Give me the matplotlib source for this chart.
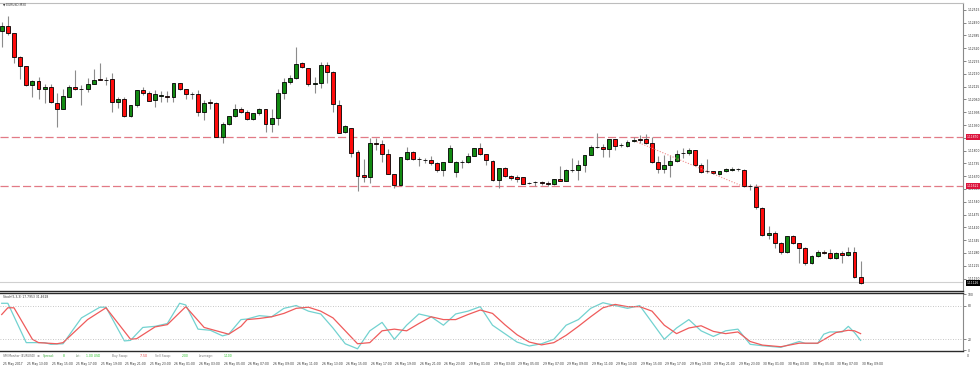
import matplotlib
matplotlib.use("Agg")
import matplotlib.pyplot as plt
import matplotlib.transforms as mtransforms
import numpy as np

# EURUSD M30 candles (25-30 May 2017)
opens = [
    1.12409, 1.12433, 1.12396, 1.12277, 1.12230, 1.12135, 1.12154, 1.12111, 1.12125, 1.12043,
    1.12011, 1.12074, 1.12125, 1.12114, 1.12111, 1.12138, 1.12162, 1.12160, 1.12162, 1.12047,
    1.12064, 1.11976, 1.12030, 1.12106, 1.12091, 1.12057, 1.12079, 1.12077, 1.12072, 1.12143,
    1.12111, 1.12087, 1.12087, 1.11998, 1.12045, 1.12043, 1.11871, 1.11935, 1.11976, 1.12013,
    1.11998, 1.11962, 1.11989, 1.12011, 1.11935, 1.11964, 1.12094, 1.12147, 1.12169, 1.12243,
    1.12220, 1.12137, 1.12145, 1.12235, 1.12199, 1.12032, 1.11894, 1.11913, 1.11791, 1.11674,
    1.11667, 1.11840, 1.11835, 1.11783, 1.11681, 1.11625, 1.11757, 1.11794, 1.11756, 1.11752,
    1.11752, 1.11735, 1.11700, 1.11742, 1.11693, 1.11741, 1.11741, 1.11774, 1.11812, 1.11783,
    1.11749, 1.11651, 1.11710, 1.11671, 1.11667, 1.11664, 1.11634, 1.11639, 1.11640, 1.11637,
    1.11629, 1.11656, 1.11646, 1.11701, 1.11701, 1.11727, 1.11778, 1.11820, 1.11820, 1.11807,
    1.11857, 1.11828, 1.11825, 1.11850, 1.11857, 1.11857, 1.11837, 1.11744, 1.11705, 1.11727,
    1.11749, 1.11786, 1.11786, 1.11803, 1.11727, 1.11696, 1.11696, 1.11680, 1.11696, 1.11703,
    1.11705, 1.11701, 1.11620, 1.11617, 1.11508, 1.11370, 1.11380, 1.11329, 1.11286, 1.11366,
    1.11329, 1.11307, 1.11230, 1.11265, 1.11286, 1.11278, 1.11253, 1.11278, 1.11270, 1.11286,
    1.11159,
]
highs = [
    1.12453, 1.12484, 1.12398, 1.12281, 1.12232, 1.12157, 1.12175, 1.12138, 1.12138, 1.12091,
    1.12114, 1.12133, 1.12209, 1.12133, 1.12167, 1.12216, 1.12243, 1.12175, 1.12196, 1.12071,
    1.12071, 1.12033, 1.12108, 1.12122, 1.12104, 1.12108, 1.12103, 1.12103, 1.12145, 1.12145,
    1.12113, 1.12098, 1.12108, 1.12057, 1.12061, 1.12045, 1.11947, 1.11978, 1.12037, 1.12023,
    1.12006, 1.11991, 1.12016, 1.12013, 1.12013, 1.12114, 1.12167, 1.12184, 1.12328, 1.12252,
    1.12222, 1.12175, 1.12249, 1.12249, 1.12204, 1.12057, 1.11930, 1.11915, 1.11803, 1.11756,
    1.11862, 1.11862, 1.11854, 1.11807, 1.11683, 1.11768, 1.11817, 1.11796, 1.11769, 1.11764,
    1.11773, 1.11744, 1.11744, 1.11828, 1.11745, 1.11752, 1.11786, 1.11814, 1.11837, 1.11785,
    1.11752, 1.11712, 1.11718, 1.11676, 1.11676, 1.11666, 1.11640, 1.11646, 1.11647, 1.11647,
    1.11658, 1.11722, 1.11707, 1.11761, 1.11752, 1.11780, 1.11828, 1.11888, 1.11833, 1.11859,
    1.11859, 1.11837, 1.11854, 1.11868, 1.11879, 1.11883, 1.11871, 1.11773, 1.11778, 1.11778,
    1.11803, 1.11812, 1.11813, 1.11805, 1.11737, 1.11756, 1.11698, 1.11698, 1.11712, 1.11717,
    1.11714, 1.11707, 1.11630, 1.11630, 1.11513, 1.11417, 1.11392, 1.11336, 1.11368, 1.11371,
    1.11331, 1.11310, 1.11270, 1.11295, 1.11295, 1.11300, 1.11285, 1.11291, 1.11312, 1.11309,
    1.11238,
]
lows = [
    1.12326, 1.12387, 1.12243, 1.12162, 1.12128, 1.12074, 1.12061, 1.12043, 1.12040, 1.11921,
    1.12010, 1.12071, 1.12108, 1.12032, 1.12098, 1.12136, 1.12159, 1.12135, 1.11995, 1.12015,
    1.11972, 1.11972, 1.12020, 1.12082, 1.12051, 1.12020, 1.12048, 1.12048, 1.12048, 1.12108,
    1.12061, 1.12064, 1.11976, 1.11955, 1.12013, 1.11868, 1.11840, 1.11932, 1.11972, 1.11989,
    1.11955, 1.11955, 1.11982, 1.11896, 1.11896, 1.11930, 1.12061, 1.12138, 1.12166, 1.12218,
    1.12128, 1.12094, 1.12119, 1.12142, 1.11998, 1.11889, 1.11888, 1.11769, 1.11596, 1.11642,
    1.11637, 1.11803, 1.11744, 1.11679, 1.11608, 1.11623, 1.11752, 1.11752, 1.11723, 1.11735,
    1.11727, 1.11693, 1.11671, 1.11740, 1.11667, 1.11710, 1.11735, 1.11773, 1.11778, 1.11727,
    1.11648, 1.11608, 1.11667, 1.11651, 1.11642, 1.11629, 1.11629, 1.11622, 1.11625, 1.11620,
    1.11625, 1.11644, 1.11644, 1.11693, 1.11651, 1.11693, 1.11776, 1.11812, 1.11766, 1.11766,
    1.11803, 1.11820, 1.11820, 1.11845, 1.11840, 1.11833, 1.11735, 1.11688, 1.11688, 1.11664,
    1.11742, 1.11761, 1.11778, 1.11722, 1.11686, 1.11685, 1.11681, 1.11676, 1.11691, 1.11696,
    1.11696, 1.11615, 1.11600, 1.11503, 1.11366, 1.11349, 1.11305, 1.11273, 1.11280, 1.11325,
    1.11230, 1.11219, 1.11224, 1.11259, 1.11275, 1.11249, 1.11249, 1.11227, 1.11265, 1.11153,
    1.11122,
]
closes = [
    1.12433, 1.12399, 1.12274, 1.12230, 1.12135, 1.12155, 1.12111, 1.12125, 1.12045, 1.12010,
    1.12077, 1.12125, 1.12111, 1.12112, 1.12138, 1.12159, 1.12160, 1.12161, 1.12047, 1.12064,
    1.11976, 1.12030, 1.12106, 1.12091, 1.12053, 1.12087, 1.12080, 1.12072, 1.12143, 1.12111,
    1.12089, 1.12088, 1.11998, 1.12043, 1.12044, 1.11871, 1.11935, 1.11976, 1.12013, 1.11998,
    1.11962, 1.11989, 1.12011, 1.11935, 1.11964, 1.12094, 1.12147, 1.12169, 1.12240, 1.12223,
    1.12137, 1.12145, 1.12235, 1.12199, 1.12037, 1.11891, 1.11925, 1.11789, 1.11671, 1.11667,
    1.11840, 1.11835, 1.11781, 1.11681, 1.11625, 1.11766, 1.11794, 1.11756, 1.11755, 1.11753,
    1.11735, 1.11700, 1.11742, 1.11815, 1.11742, 1.11740, 1.11774, 1.11812, 1.11783, 1.11752,
    1.11651, 1.11710, 1.11671, 1.11659, 1.11657, 1.11630, 1.11633, 1.11638, 1.11634, 1.11629,
    1.11656, 1.11646, 1.11701, 1.11700, 1.11727, 1.11778, 1.11817, 1.11819, 1.11807, 1.11857,
    1.11825, 1.11827, 1.11845, 1.11854, 1.11856, 1.11837, 1.11744, 1.11705, 1.11727, 1.11749,
    1.11783, 1.11787, 1.11803, 1.11727, 1.11693, 1.11695, 1.11685, 1.11696, 1.11705, 1.11708,
    1.11706, 1.11620, 1.11619, 1.11512, 1.11370, 1.11380, 1.11332, 1.11283, 1.11366, 1.11332,
    1.11307, 1.11230, 1.11265, 1.11286, 1.11278, 1.11253, 1.11278, 1.11270, 1.11286, 1.11156,
    1.11126,
]

# Stochastic(5,3,3) main (%K) and signal (%D), read at bar positions
stoch_k_bars = [0, 1, 4, 7, 8, 10, 13, 16, 17, 20, 21, 23, 25, 27, 29, 30, 32, 34, 36, 37,
                39, 40, 42, 44, 46, 48, 50, 52, 54, 56, 58, 60, 62, 64, 66, 68, 70, 72, 74, 76,
                78, 80, 82, 84, 86, 88, 90, 92, 94, 96, 98, 100, 102, 104, 106, 108, 110, 112,
                114, 116, 118, 120, 122, 124, 127, 130, 131, 133, 134, 135, 137, 138, 139, 140]
stoch_k = [84, 84, 14, 14, 11, 12, 58, 77, 77, 17, 18, 41, 43, 48, 84, 81, 38, 36, 26, 29,
           55, 56, 62, 60, 75, 80, 70, 65, 40, 12, 3, 35, 50, 20, 45, 65, 60, 45, 65, 70,
           78, 45, 30, 15, 8, 12, 20, 45, 55, 75, 85, 80, 75, 80, 50, 20, 40, 55,
           35, 25, 35, 38, 11, 8.5, 5.6, 16, 12.6, 12.6, 29, 33, 33, 43, 32, 18]
stoch_d_bars = [0, 1, 2, 5, 6, 9, 10, 14, 17, 21, 22, 25, 27, 30, 33, 37, 39, 40, 42, 44,
                46, 48, 50, 52, 54, 56, 58, 60, 62, 64, 66, 68, 70, 72, 74, 76, 78, 80, 82, 84,
                86, 88, 90, 92, 94, 96, 98, 100, 102, 104, 106, 108, 110, 112, 114, 116, 118,
                120, 122, 124, 127, 130, 133, 136, 138, 139, 140]
stoch_d = [64, 76, 76, 20, 14, 12, 14, 55, 76, 20, 21, 42, 46, 78, 41, 29, 43, 55, 57, 60,
           66, 75, 77, 70, 58, 35, 12, 14, 35, 38, 35, 48, 60, 55, 55, 64, 72, 66, 46, 28,
           15, 10, 14, 27, 43, 60, 76, 82, 78, 78, 70, 45, 30, 40, 44, 34, 30,
           33, 16, 9.6, 6.7, 13, 13, 32, 36, 35, 30]

level_hi = 1.11870
level_lo = 1.11621
trend_bars = [103.5, 120.7]
trend_prices = [1.11845, 1.11620]
spread = 0.00008

price_ticks = [1.11150, 1.11215, 1.11280, 1.11345, 1.11410, 1.11475, 1.11540, 1.11605,
               1.11670, 1.11735, 1.11800, 1.11865, 1.11930, 1.11995, 1.12060, 1.12125,
               1.12190, 1.12255, 1.12320, 1.12385, 1.12450, 1.12515]

time_labels = ["25 May 2017"] + [f"25 May {h:02d}:00" for h in (13, 15, 17, 19, 21, 23)] \
    + [f"26 May {h:02d}:00" for h in range(1, 24, 2)] \
    + [f"29 May {h:02d}:00" for h in range(1, 24, 2)] \
    + [f"30 May {h:02d}:00" for h in (1, 3, 5, 7, 9)]

# ---------------------------------------------------------------- layout
W, H = 980, 368
fig = plt.figure(figsize=(W / 100, H / 100), dpi=100)
fig.patch.set_facecolor("white")


def px_axes(x0, y0, x1, y1):
    return fig.add_axes([x0 / W, 1 - y1 / H, (x1 - x0) / W, (y1 - y0) / H])


def fx(x):
    return x / W


def fy(y):
    return 1 - y / H


BAR_PX = 6.135
X0 = 1.7
RIGHT = 963
xlim = (-X0 / BAR_PX, (RIGHT - X0) / BAR_PX)
FS = 2.2
TXT = "#303030"

ax = px_axes(0, 3, RIGHT, 291)
sx = px_axes(0, 293, RIGHT, 351)

# ---------------------------------------------------------------- candles
o = np.array(opens)
h = np.array(highs)
l = np.array(lows)
c = np.array(closes)
bars = np.arange(len(o))
up = c >= o
colors = np.where(up, "#128a12", "#ff0b0b")

ax.vlines(bars, l, h, color="#8c8c8c", lw=0.8, zorder=1)
ax.bar(bars, np.maximum(np.abs(c - o), 0.000008), bottom=np.minimum(o, c), width=0.64,
       color=colors, edgecolor="black", linewidth=0.6, zorder=2)

dash = (0, (6.5, 2.5))
ax.axhline(level_hi, color="#e27a86", lw=0.9, ls=dash, zorder=0)
ax.axhline(level_lo, color="#e27a86", lw=0.9, ls=dash, zorder=0)
ax.plot(trend_bars, trend_prices, color="#f08a8a", lw=0.8, ls=(0, (1, 1.5)), zorder=3)
ax.axhline(c[-1] + spread, color="#d0d0d0", lw=0.8, zorder=0)

ax.set_xlim(*xlim)
ax.set_ylim(1.110867, 1.125498)
ax.set_xticks([])
ax.yaxis.tick_right()
ax.set_yticks(price_ticks)
ax.set_yticklabels([f"{t:.5f}" for t in price_ticks])
ax.tick_params(axis="y", length=2, width=0.5, pad=1.5, labelsize=FS, colors="#555555",
               labelcolor=TXT)
ax.spines["left"].set_visible(False)
ax.spines["top"].set_color("#bdbdbd")
ax.spines["top"].set_linewidth(0.8)
ax.spines["right"].set_color("#8a8a8a")
ax.spines["right"].set_linewidth(0.8)
ax.spines["bottom"].set_color("#2a2a2a")
ax.spines["bottom"].set_linewidth(1.0)

trans = mtransforms.blended_transform_factory(ax.transAxes, ax.transData)
for val, fc in ((level_hi, "#dc143c"), (level_lo, "#dc143c"), (c[-1], "black")):
    ax.text(1.004, val, f"{val:.5f}", transform=trans, ha="left", va="center",
            fontsize=FS, color="white", clip_on=False, zorder=10,
            bbox=dict(boxstyle="square,pad=0.35", fc=fc, ec="none"))

fig.text(fx(3), fy(5), "\u25bc EURUSD,M30", fontsize=FS, color=TXT, va="center")

# ---------------------------------------------------------------- stochastic
sx.plot(stoch_k_bars, stoch_k, color="#72d2d0", lw=0.9)
sx.plot(stoch_d_bars, stoch_d, color="#ef5b5b", lw=0.9)
for lvl in (80, 20):
    sx.axhline(lvl, color="#b4b4b4", lw=0.6, ls=(0, (1, 2)))
sx.set_xlim(*xlim)
sx.set_ylim(-0.9, 102.3)
sx.set_xticks([])
sx.yaxis.tick_right()
sx.set_yticks([0, 20, 80, 100])
sx.tick_params(axis="y", length=2, width=0.5, pad=1.5, labelsize=FS, colors="#555555",
               labelcolor=TXT)
sx.spines["left"].set_visible(False)
sx.spines["right"].set_color("#8a8a8a")
sx.spines["right"].set_linewidth(0.8)
for side in ("top", "bottom"):
    sx.spines[side].set_color("#2a2a2a")
    sx.spines[side].set_linewidth(1.0)
sx.text(0.003, 0.935, "Stoch(5,3,3) 17.7953 31.4628", transform=sx.transAxes,
        fontsize=FS, color=TXT, va="center")

# ---------------------------------------------------------------- SM Monitor line
monitor = [
    (3, "SM Monitor (EURUSD)  \u2299", "#606060"),
    (43, "Spread:", "#3aa83a"), (63, "8", "#22c022"),
    (76, "Lot:", "#6f8f6f"), (86, "1.00 USD", "#22c022"),
    (112, "Buy Swap:", "#7a7a7a"), (140, "-7.50", "#e03030"),
    (155, "Sell Swap:", "#7a7a7a"), (182, "2.00", "#22c022"),
    (199, "Leverage:", "#7a7a7a"), (224, "1:100", "#22c022"),
]
for xpos, txt, col in monitor:
    fig.text(fx(xpos), fy(356), txt, fontsize=FS, color=col, va="center")
fig.text(fx(967), fy(356), "0", fontsize=FS, color=TXT, va="center")

# ---------------------------------------------------------------- time axis
for k, lab in enumerate(time_labels):
    xpix = X0 + 4 * k * BAR_PX
    fig.text(fx(xpix + 1), fy(364), lab, fontsize=FS, color=TXT, va="center", ha="left")

fig.savefig("out.png", dpi=100, facecolor="white")
